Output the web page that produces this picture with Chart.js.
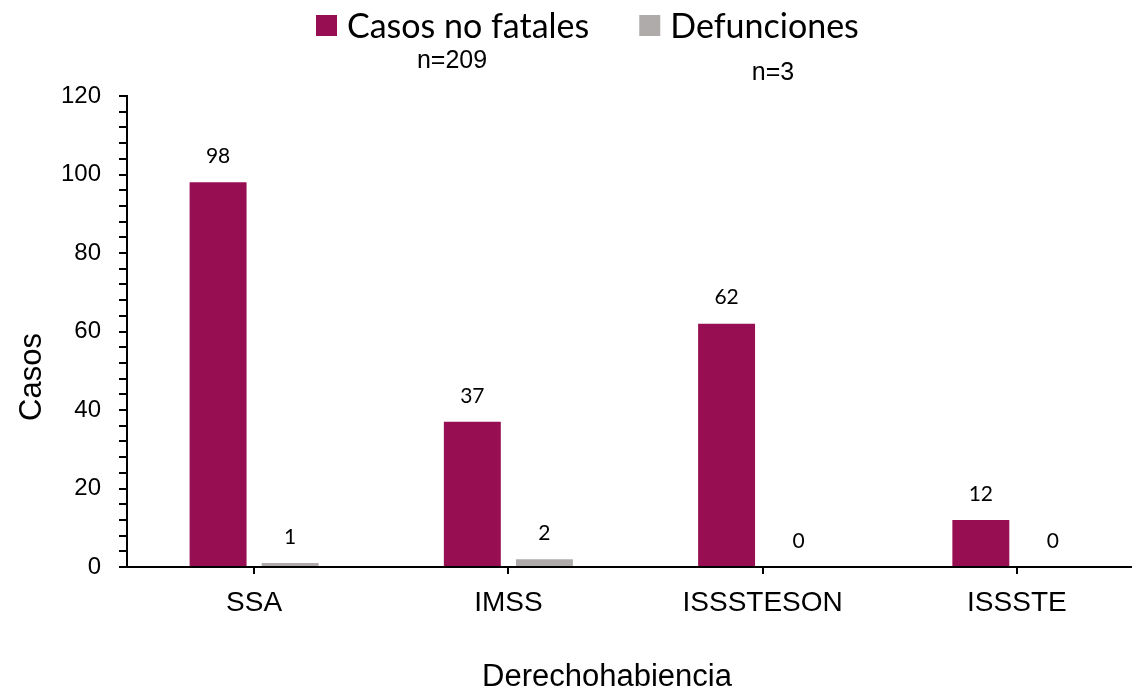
<!DOCTYPE html>
<html><head><meta charset="utf-8">
<script src="https://cdn.jsdelivr.net/npm/chart.js@4"></script>
<style>
html,body{margin:0;padding:0;background:#fff;overflow:hidden;width:1132px;height:690px}
#wrap{width:1144px;height:690px;position:relative}
</style></head>
<body><div id="wrap"><canvas id="c"></canvas></div>
<script>
const categories = ['SSA', 'IMSS', 'ISSSTESON', 'ISSSTE'];
const seriesNames = ['Casos no fatales', 'Defunciones'];
const casosNoFatales = [98, 37, 62, 12];
const defunciones = [1, 2, 0, 0];
const seriesTotals = ['n=209', 'n=3'];
const yTickLabels = [0, 20, 40, 60, 80, 100, 120];
const xTitle = 'Derechohabiencia';
const yTitle = 'Casos';

const colors = ['#970E53', '#AFABAB'];
const ARIAL = '"Liberation Sans", Arial, sans-serif';
const CALIBRI = 'Lato, "Noto Sans", sans-serif';

const extras = {
  id: 'extras',
  afterDatasetsDraw(chart) {
    const ctx = chart.ctx;
    ctx.save();
    ctx.font = '21px ' + CALIBRI;
    ctx.fillStyle = '#000';
    ctx.textAlign = 'center';
    ctx.textBaseline = 'middle';
    chart.data.datasets.forEach((ds, i) => {
      const meta = chart.getDatasetMeta(i);
      meta.data.forEach((el, j) => {
        ctx.fillText(String(ds.data[j]), el.x, el.y - 26);
      });
    });
    ctx.restore();
  },
  afterDraw(chart) {
    const ctx = chart.ctx;
    ctx.save();
    // legend
    ctx.font = '34px ' + CALIBRI;
    ctx.textBaseline = 'middle';
    ctx.textAlign = 'left';
    let x = 316;
    seriesNames.forEach((name, i) => {
      ctx.fillStyle = colors[i];
      ctx.fillRect(x, 15, 21, 21);
      ctx.fillStyle = '#000';
      ctx.fillText(name, x + 31, 27);
      x += 31 + ctx.measureText(name).width + 50;
    });
    // totals
    ctx.font = '25px ' + ARIAL;
    ctx.textAlign = 'center';
    ctx.fillText(seriesTotals[0], 452, 61);
    ctx.fillText(seriesTotals[1], 773, 73);
    // axis titles
    ctx.font = '31px ' + ARIAL;
    ctx.fillText(xTitle, 607, 677);
    ctx.translate(32, 377);
    ctx.rotate(-Math.PI / 2);
    ctx.fillText(yTitle, 0, 0);
    ctx.restore();
  }
};

new Chart(document.getElementById('c'), {
  type: 'bar',
  data: {
    labels: categories,
    datasets: [
      { label: seriesNames[0], data: casosNoFatales, backgroundColor: colors[0],
        categoryPercentage: 0.567, barPercentage: 0.79 },
      { label: seriesNames[1], data: defunciones, backgroundColor: colors[1],
        categoryPercentage: 0.567, barPercentage: 0.79 }
    ]
  },
  options: {
    responsive: true,
    maintainAspectRatio: false,
    animation: false,
    layout: { padding: { top: 96, right: 0, bottom: 0, left: 0 } },
    plugins: { legend: { display: false }, tooltip: { enabled: false } },
    scales: {
      x: {
        offset: true,
        grid: { offset: false, drawOnChartArea: false, tickLength: 7, color: '#000', lineWidth: 2 },
        border: { color: '#000', width: 2 },
        ticks: { font: { family: ARIAL, size: 28 }, color: '#000', padding: 12 },
        afterFit(s) { s.height = 123; }
      },
      y: {
        min: 0, max: 120,
        ticks: {
          stepSize: 4,
          autoSkip: false,
          font: { family: ARIAL, size: 24 }, color: '#000', padding: 18,
          callback: v => yTickLabels.includes(v) ? String(v) : ''
        },
        grid: { drawOnChartArea: false, tickLength: 8, color: '#000', lineWidth: 2 },
        border: { color: '#000', width: 2 },
        afterFit(s) { s.width = 127; }
      }
    }
  },
  plugins: [extras]
});
</script>
</body></html>
